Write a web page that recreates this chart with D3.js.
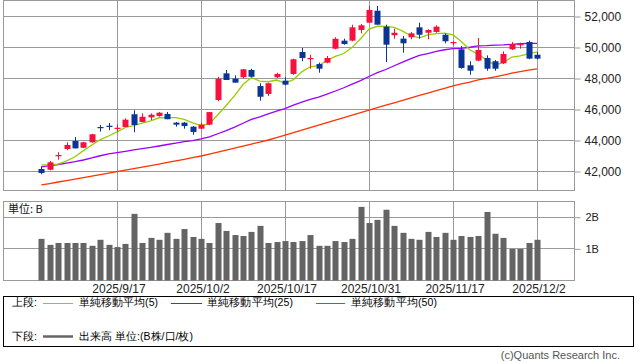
<!DOCTYPE html>
<html><head><meta charset="utf-8">
<script src="https://cdn.jsdelivr.net/npm/d3@7"></script>
<style>
html,body{margin:0;padding:0;background:#fff;}
svg{display:block;}
text{font-family:"Liberation Sans",Arial,sans-serif;}
.jp{font-family:"Noto Sans CJK JP","Noto Sans",sans-serif;}
</style></head>
<body><svg id="c" width="638" height="362"></svg>
<script>
const dates = ["9/3","9/4","9/5","9/8","9/9","9/10","9/11","9/12","9/16","9/17","9/18","9/19","9/22","9/24","9/25","9/26","9/29","9/30","10/1","10/2","10/3","10/6","10/7","10/8","10/9","10/10","10/14","10/15","10/16","10/17","10/20","10/21","10/22","10/23","10/24","10/27","10/28","10/29","10/30","10/31","11/4","11/5","11/6","11/7","11/10","11/11","11/12","11/13","11/14","11/17","11/18","11/19","11/20","11/21","11/25","11/26","11/27","11/28","12/1","12/2"];
const openV  = [42130,42080,42950,43420,43940,43500,43850,44840,44920,44750,44840,45660,45160,45460,45550,45680,45120,45120,44860,44730,44990,46580,48300,47960,48050,48520,47480,46970,48050,47830,48260,49680,49210,48900,48990,49890,50410,50410,51100,51570,52340,51310,50760,50540,50630,51270,50920,50970,50790,50240,49850,48820,49120,49290,49080,48950,49850,50150,50320,49500];
const highV  = [42300,42650,43210,43850,44190,43880,44400,44970,45100,45010,45400,45920,45720,45720,45810,45810,45160,45160,44900,45120,45810,48080,48520,48170,48580,48600,47660,47700,48340,48050,49250,49940,49500,48990,49420,50630,50540,51440,51480,52650,52650,51440,51180,50710,50970,51570,51140,51400,50880,50370,50060,49080,50580,49460,49160,49720,50320,50280,50410,49680];
const lowV   = [41790,42040,42730,43340,43460,43480,43830,44540,44630,44540,44840,44500,45160,45290,45500,45340,44860,44730,44340,44690,44950,46500,47870,47700,47960,48050,46540,46840,48000,47530,48210,49080,48600,48340,48950,49850,50150,50370,50880,51570,51440,49030,50540,49630,50500,50540,50500,50920,50240,50110,48600,48210,49080,48470,48470,48900,49810,49890,49210,49210];
const closeV = [41870,42560,43030,43680,43460,43850,44370,44760,44840,44790,45310,44970,45500,45630,45760,45340,44990,44900,44520,44990,45800,47950,47870,47700,48560,48080,46790,47660,48260,47570,49210,49290,49290,48600,49290,50530,50190,51270,51400,52390,51440,50150,50920,50240,50880,50790,51100,51310,50370,50320,48650,48470,49810,48600,48600,49550,50190,50190,49250,49250];
const ma5  = [42390,42390,42450,42650,42920,43316,43678,44024,44256,44522,44814,44934,45082,45240,45434,45440,45444,45324,45102,44948,45040,45632,46226,46862,47576,48032,47800,47758,47870,47672,47898,48398,48724,48792,49136,49400,49580,49976,50536,51156,51338,51330,51260,51028,50726,50596,50786,50864,50890,50778,50350,49824,49524,49170,48826,49006,49350,49426,49556,49686];
const ma25 = [42270,42340,42420,42510,42600,42710,42840,42984,43105,43188,43269,43362,43447,43523,43612,43710,43805,43895,43964,44068,44199,44404,44610,44830,45080,45328,45498,45683,45866,46030,46245,46442,46623,46773,46953,47162,47371,47602,47832,48098,48342,48548,48789,49018,49253,49453,49579,49716,49823,49894,49916,49984,50070,50083,50124,50138,50174,50210,50236,50234];
const ma50 = [41100,41190,41290,41380,41480,41570,41670,41760,41860,41955,42050,42150,42250,42350,42450,42555,42655,42755,42860,42968,43090,43220,43350,43480,43610,43740,43870,44000,44150,44320,44480,44640,44800,44960,45120,45290,45450,45610,45770,45935,46090,46250,46400,46560,46720,46880,47030,47180,47330,47487,47623,47741,47877,47975,48078,48192,48308,48417,48505,48594];
const volume = [1.30,1.11,1.17,1.17,1.17,1.17,1.08,1.27,1.11,1.04,1.14,2.09,1.17,1.33,1.27,1.49,1.30,1.61,1.36,1.30,1.17,1.80,1.55,1.42,1.39,1.52,1.71,1.17,1.20,1.23,1.20,1.23,1.42,1.08,1.08,1.23,1.20,1.30,2.31,1.80,1.90,2.22,1.71,1.49,1.30,1.27,1.52,1.36,1.49,1.27,1.39,1.36,1.39,2.15,1.46,1.33,0.98,0.98,1.17,1.27];
const xLabelDates = ["9/17","10/2","10/17","10/31","11/17","12/2"];
const priceTicks = [42000,44000,46000,48000,50000,52000];
const volTicks = [1,2];
const legendTop = [{label:"単純移動平均(5)",color:"#99cc00"},{label:"単純移動平均(25)",color:"#9900ff"},{label:"単純移動平均(50)",color:"#ff3300"}];

const svg = d3.select("#c");
const L=3.5, R=574.5;
const gridC="#9a9a9a";
const x = d3.scaleBand().domain(dates).range([37.2, 37.2+8.4*dates.length]).paddingInner(0);
const cx = d => x(d)+x.bandwidth()/2;
const y = d3.scaleLinear().domain([42000,52000]).range([171,16]);
const yv = d3.scaleLinear().domain([0,2]).range([280,216.7]);

// price panel
const priceG = svg.append("g");
priceG.append("rect").attr("x",L).attr("y",0.5).attr("width",R-L).attr("height",190).attr("fill","none").attr("stroke",gridC);
priceG.selectAll("line.hg").data(priceTicks).join("line").attr("x1",L).attr("x2",R)
  .attr("y1",d=>Math.round(y(d))+0.5).attr("y2",d=>Math.round(y(d))+0.5).attr("stroke",gridC);
priceG.selectAll("line.vg").data(xLabelDates).join("line").attr("y1",0.5).attr("y2",190.5)
  .attr("x1",d=>Math.round(cx(d))+0.5).attr("x2",d=>Math.round(cx(d))+0.5).attr("stroke",gridC);

const yAxis = d3.axisRight(y).tickValues(priceTicks).tickSize(6).tickPadding(4).tickFormat(d3.format(","));
const ya = svg.append("g").attr("transform",`translate(${R},0.5)`).call(yAxis);
ya.select(".domain").remove();
ya.selectAll("line").attr("stroke",gridC);
ya.selectAll("text").attr("font-size","12px").attr("fill","#222").attr("font-family","Liberation Sans, Arial, sans-serif");

// MA lines
const mkLine = arr => d3.line().x((d,i)=>cx(dates[i])).y(d=>y(d))(arr);
[[ma50,"#ff3300"],[ma25,"#9900ff"],[ma5,"#99cc00"]].forEach(([arr,c])=>{
  priceG.append("path").attr("d",mkLine(arr)).attr("fill","none").attr("stroke",c).attr("stroke-width",1.3);
});

// candles
const cg = priceG.selectAll("g.c").data(dates).join("g");
cg.append("line").attr("x1",d=>Math.round(cx(d))+0.5).attr("x2",d=>Math.round(cx(d))+0.5)
  .attr("y1",(d,i)=>y(highV[i])).attr("y2",(d,i)=>y(lowV[i]))
  .attr("stroke",(d,i)=>closeV[i]>=openV[i]?"#f5103e":"#0a3594").attr("stroke-width",1);
cg.append("rect").attr("x",d=>Math.round(cx(d))-2.5).attr("width",6)
  .attr("y",(d,i)=>y(Math.max(openV[i],closeV[i])))
  .attr("height",(d,i)=>Math.max(1.2,Math.abs(y(openV[i])-y(closeV[i]))))
  .attr("fill",(d,i)=>closeV[i]>=openV[i]?"#f5103e":"#0a3594");

// volume panel
const vp = svg.append("g");
vp.append("rect").attr("x",L).attr("y",201.5).attr("width",R-L).attr("height",79).attr("fill","none").attr("stroke",gridC);
vp.selectAll("line.hg").data(volTicks).join("line").attr("x1",L).attr("x2",R)
  .attr("y1",d=>Math.round(yv(d))+0.5).attr("y2",d=>Math.round(yv(d))+0.5).attr("stroke",gridC);
vp.selectAll("line.vg").data(xLabelDates).join("line").attr("y1",201.5).attr("y2",280.5)
  .attr("x1",d=>Math.round(cx(d))+0.5).attr("x2",d=>Math.round(cx(d))+0.5).attr("stroke",gridC);
vp.selectAll("rect.b").data(volume).join("rect").attr("class","b")
  .attr("x",(d,i)=>Math.round(cx(dates[i]))-2.5).attr("width",6)
  .attr("y",d=>yv(d)).attr("height",d=>280.5-yv(d)).attr("fill","#646464");
const va = svg.append("g").attr("transform",`translate(${R},0.5)`).call(d3.axisRight(yv).tickValues(volTicks).tickSize(6).tickPadding(5).tickFormat(d=>d+"B"));
va.select(".domain").remove();
va.selectAll("line").attr("stroke",gridC);
va.selectAll("text").attr("font-size","11px").attr("fill","#222").attr("font-family","Liberation Sans, Arial, sans-serif");
svg.append("text").attr("class","jp").attr("x",8).attr("y",210).attr("dominant-baseline","middle")
  .attr("font-size","11px").attr("fill","#111").text("単位: B");

// x axis
const xa = svg.append("g").attr("transform","translate(2,280.5)")
  .call(d3.axisBottom(x).tickValues(xLabelDates).tickSize(0).tickPadding(3.5).tickFormat(d=>"2025/"+d));
xa.select(".domain").remove();
xa.selectAll("text").attr("font-size","12px").attr("fill","#222").attr("font-family","Liberation Sans, Arial, sans-serif");

// legend
const fs = "10.5px";
const lg = svg.append("g").attr("class","jp");
lg.append("rect").attr("x",3.5).attr("y",296.5).attr("width",630).attr("height",50).attr("fill","none").attr("stroke","#000");
lg.append("text").attr("x",12).attr("y",303.5).attr("dominant-baseline","middle").attr("font-size",fs).text("上段:");
const lx = [[43,73,79,79],[171,202,207,86],[316,345,351,86]];
legendTop.forEach((it,k)=>{
  lg.append("line").attr("x1",lx[k][0]).attr("x2",lx[k][1]).attr("y1",303.5).attr("y2",303.5).attr("stroke",it.color).attr("stroke-width",1);
  lg.append("text").attr("x",lx[k][2]).attr("y",303.5).attr("dominant-baseline","middle").attr("font-size",fs)
    .attr("textLength",lx[k][3]).attr("lengthAdjust","spacing").text(it.label);
});
lg.append("text").attr("x",12).attr("y",337).attr("dominant-baseline","middle").attr("font-size",fs).text("下段:");
lg.append("line").attr("x1",43).attr("x2",73).attr("y1",336.5).attr("y2",336.5).attr("stroke","#666").attr("stroke-width",2.5);
lg.append("text").attr("x",79).attr("y",337).attr("dominant-baseline","middle").attr("font-size",fs)
  .attr("textLength",114).attr("lengthAdjust","spacing").text("出来高 単位:(B株/口/枚)");

svg.append("text").attr("x",620).attr("y",356).attr("text-anchor","end").attr("dominant-baseline","middle")
  .attr("font-size","11px").attr("fill","#555").text("(c)Quants Research Inc.");
</script></body></html>
